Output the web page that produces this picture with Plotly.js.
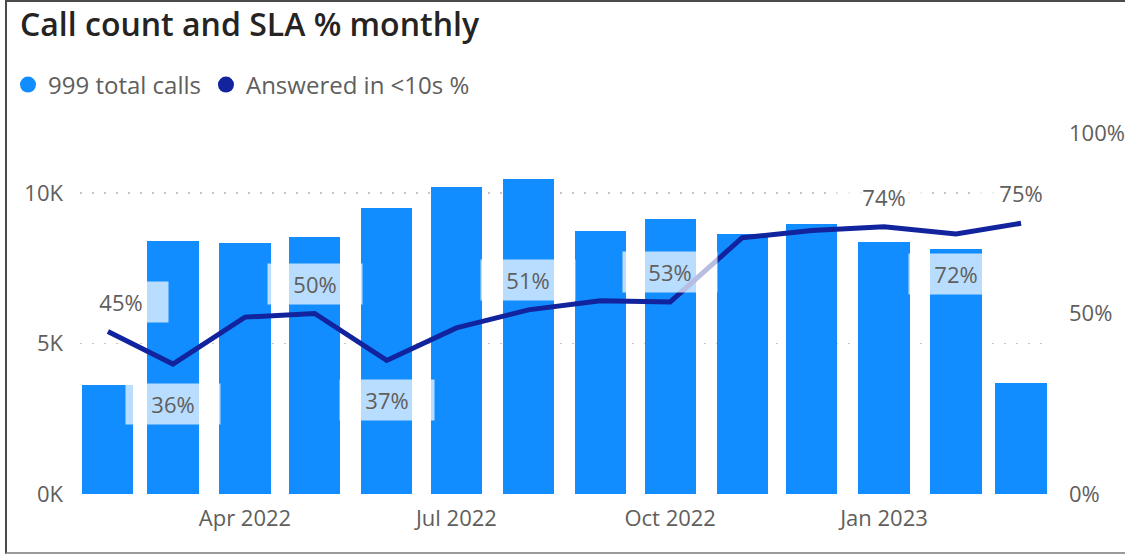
<!DOCTYPE html>
<html>
<head>
<meta charset="utf-8">
<script src="https://cdn.plot.ly/plotly-3.0.1.min.js"></script>
<style>
  html, body { margin: 0; padding: 0; background: #ffffff; }
  #wrap { position: relative; width: 1125px; height: 554px; overflow: hidden; }
  #chart { position: absolute; left: 0; top: 0; width: 1125px; height: 554px; }
  #frame { position: absolute; left: 5px; top: 0; width: 1130px; height: 554px;
           border-left: 2px solid #4a4a4a; border-top: 2px solid #4a4a4a; border-bottom: 2px solid #9a9a9a;
           pointer-events: none; box-sizing: border-box; }
</style>
</head>
<body>
<div id="wrap"><div id="chart"></div><div id="frame"></div></div>
<script>
// ---- data ----
var months = ['2022-02-01','2022-03-01','2022-04-01','2022-05-01','2022-06-01','2022-07-01','2022-08-01',
              '2022-09-01','2022-10-01','2022-11-01','2022-12-01','2023-01-01','2023-02-01','2023-03-01'];
var totalCalls = [3630, 8420, 8330, 8550, 9520, 10210, 10480, 8750, 9140, 8640, 8970, 8380, 8150, 3700];
var answeredPct = [0.45, 0.36, 0.49, 0.50, 0.37, 0.46, 0.51, 0.535, 0.532, 0.71, 0.73, 0.74, 0.72, 0.75];
var labelIdx = [0, 1, 3, 4, 6, 8, 11, 12, 13];
var labelBelow = [false, true, false, true, false, false, false, true, false];
var seriesNames = ['999 total calls', 'Answered in <10s %'];
var leftTickVals = [0, 5000, 10000];
var leftTickText = ['0K', '5K', '10K'];
var rightTickVals = [0, 0.5, 1];
var xTickVals = ['2022-04-01', '2022-07-01', '2022-10-01', '2023-01-01'];

var barColor = '#118DFF';
var lineColor = '#12239E';
var textColor = '#605E5C';
var fontFam = '"Open Sans", "Noto Sans", sans-serif';
var DAY = 86400000;

var traces = [
  { type: 'bar', x: months, y: totalCalls, name: seriesNames[0], yaxis: 'y',
    marker: { color: barColor }, width: months.map(function(){ return 22 * DAY; }),
    showlegend: false, hoverinfo: 'skip' },
  { type: 'scatter', mode: 'lines', x: months, y: answeredPct, name: seriesNames[1], yaxis: 'y2',
    line: { color: lineColor, width: 5 }, showlegend: false, hoverinfo: 'skip' },
  // legend entries (circle markers as in the original legend)
  { type: 'scatter', mode: 'markers', x: [null], y: [null], name: seriesNames[0],
    marker: { color: barColor, size: 19, symbol: 'circle' }, showlegend: true },
  { type: 'scatter', mode: 'markers', x: [null], y: [null], name: seriesNames[1], yaxis: 'y2',
    marker: { color: lineColor, size: 19, symbol: 'circle' }, showlegend: true }
];

var annotations = labelIdx.map(function(i, k) {
  return {
    x: months[i], y: answeredPct[i], xref: 'x', yref: 'y2',
    text: Math.round(answeredPct[i] * 100) + '%',
    showarrow: false, xanchor: 'center', yanchor: 'middle',
    yshift: labelBelow[k] ? -40 : 30, xshift: i === 0 ? 13 : 0,
    font: { family: fontFam, size: 22, color: textColor },
    bgcolor: 'rgba(255,255,255,0.7)', width: 84, height: 30, borderpad: 5
  };
});

var layout = {
  width: 1125, height: 554,
  paper_bgcolor: '#ffffff', plot_bgcolor: 'rgba(0,0,0,0)',
  margin: { l: 80, r: 77, t: 133, b: 60 },
  font: { family: fontFam, color: textColor },
  title: { text: 'Call count and SLA % monthly', xref: 'container', yref: 'container',
           x: 20 / 1125, xanchor: 'left', y: 1 - 25 / 554, yanchor: 'middle',
           font: { family: fontFam, size: 32, weight: 600, color: '#252423' } },
  showlegend: true,
  legend: { orientation: 'h', xref: 'container', yref: 'container', x: 8 / 1125, xanchor: 'left',
            y: 1 - 85 / 554, yanchor: 'middle', font: { family: fontFam, size: 24, color: textColor },
            itemwidth: 30, tracegroupgap: 0, bgcolor: 'rgba(0,0,0,0)' },
  bargap: 0,
  xaxis: { type: 'date', range: ['2022-01-20', '2023-03-12 14:24'], tickvals: xTickVals, tickformat: '%b %Y',
           showgrid: false, zeroline: false, showline: false, ticks: '', ticklabelstandoff: 9,
           tickfont: { family: fontFam, size: 22, color: textColor } },
  yaxis: { range: [0, 12000], tickvals: leftTickVals, ticktext: leftTickText, showgrid: true,
           gridcolor: '#c8c6c4', griddash: '2px,10px', gridwidth: 1.5, zeroline: false, showline: false,
           ticks: '', ticklabelstandoff: 16, tickfont: { family: fontFam, size: 22, color: textColor } },
  yaxis2: { range: [0, 1], overlaying: 'y', side: 'right', tickvals: rightTickVals, tickformat: '.0%',
            showgrid: false, zeroline: false, showline: false, ticks: '', ticklabelstandoff: 20,
            tickfont: { family: fontFam, size: 22, color: textColor } },
  annotations: annotations
};

Plotly.newPlot('chart', traces, layout, { staticPlot: true, displayModeBar: false });
</script>
</body>
</html>
